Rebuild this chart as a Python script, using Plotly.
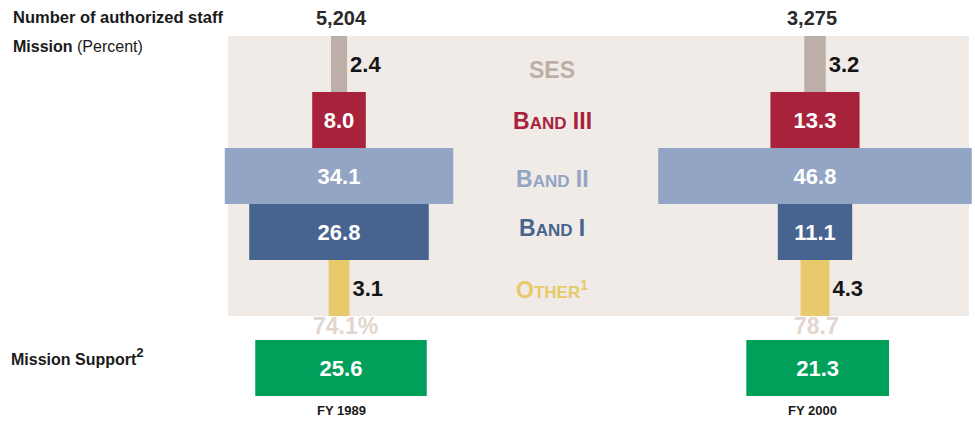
import plotly.graph_objects as go

# ---- data ----
categories = ["SES", "Band III", "Band II", "Band I", "Other"]
fy1989 = [2.4, 8.0, 34.1, 26.8, 3.1]
fy2000 = [3.2, 13.3, 46.8, 11.1, 4.3]
years = ["FY 1989", "FY 2000"]
staff = ["5,204", "3,275"]
mission_total = ["74.1%", "78.7"]
support = [25.6, 21.3]

# ---- styles ----
colors = ["#bcafa7", "#a8223b", "#93a5c4", "#46648f", "#e8c96c"]
green = "#00a05a"
panel = "#f0ebe7"
FONT = "Liberation Sans, Arial, sans-serif"

W, H = 975, 422
K = 6.7                       # px per percent unit
LEFT_PX, RIGHT_PX = 339, 815  # column centers (px)
centers = [0.0, (RIGHT_PX - LEFT_PX) / K]
ROW_PX, ROW0_PX = 56, 64
SUPPORT_ROW = (368 - ROW0_PX) / ROW_PX

fig = go.Figure()

rows = list(range(len(categories)))
for j, vals in enumerate([fy1989, fy2000]):
    c = centers[j]
    fig.add_trace(go.Bar(
        orientation="h",
        y=rows,
        x=vals,
        base=[c - v / 2 for v in vals],
        width=1.0,
        marker=dict(color=colors, line=dict(width=0)),
        text=[f"<b>{v:.1f}</b>" for v in vals],
        textposition=["outside" if v < 5 else "inside" for v in vals],
        insidetextanchor="middle",
        insidetextfont=dict(color="white", size=22, family=FONT),
        outsidetextfont=dict(color="#141414", size=22, family=FONT),
        constraintext="none",
        cliponaxis=False,
        hoverinfo="skip",
        showlegend=False,
    ))

fig.add_trace(go.Bar(
    orientation="h",
    y=[SUPPORT_ROW, SUPPORT_ROW],
    x=support,
    base=[centers[j] + (0.3 if j == 0 else 0.4) - v / 2 for j, v in enumerate(support)],
    width=1.0,
    marker=dict(color=green, line=dict(width=0)),
    text=[f"<b>{v:.1f}</b>" for v in support],
    textposition="inside",
    insidetextanchor="middle",
    insidetextfont=dict(color="white", size=22, family=FONT),
    constraintext="none",
    hoverinfo="skip",
    showlegend=False,
))

# panel background
fig.add_shape(type="rect", xref="paper", yref="y", layer="below",
              x0=228 / W, x1=969 / W, y0=-0.5, y1=4.5,
              fillcolor=panel, line=dict(width=0))

ann = []
# category labels (small caps)
sc = lambda first, rest, extra="": f"<b>{first}<span style='font-size:17px'>{rest}</span>{extra}</b>"
cat_labels = [
    "<b>SES</b>",
    sc("B", "AND", " III"),
    sc("B", "AND", " II"),
    sc("B", "AND", " I"),
    sc("O", "THER", "<span style='font-size:20px'><sup>1</sup></span>"),
]
cat_dy = [0.1, 0.02, 0.05, -0.07, 0.03]
for i, lab in enumerate(cat_labels):
    ann.append(dict(xref="paper", yref="y", x=552 / W, y=i + cat_dy[i], text=lab,
                    showarrow=False, xanchor="center", yanchor="middle",
                    font=dict(size=23, color=colors[i], family=FONT)))

for j in range(2):
    ann.append(dict(xref="x", yref="y", x=centers[j] + (0.3 if j == 0 else -0.4),
                    y=(18 - ROW0_PX) / ROW_PX, text=f"<b>{staff[j]}</b>", showarrow=False,
                    font=dict(size=20, color="#2a2a2a", family=FONT)))
    ann.append(dict(xref="x", yref="y", x=centers[j] + (0.9 if j == 0 else 0.2),
                    y=(326 - ROW0_PX) / ROW_PX,
                    text=f"<b>{mission_total[j]}</b>", showarrow=False,
                    font=dict(size=23, color="#e2d6ce", family=FONT)))
    ann.append(dict(xref="x", yref="y", x=centers[j] + (0.3 if j == 0 else -0.4),
                    y=(410 - ROW0_PX) / ROW_PX, text=f"<b>{years[j]}</b>", showarrow=False,
                    font=dict(size=13, color="#1a1a1a", family=FONT)))

ann.append(dict(xref="paper", yref="paper", x=11 / W, y=1 - 17 / H, xanchor="left",
                yanchor="middle", text="<b>Number of authorized staff</b>", showarrow=False,
                font=dict(size=16.5, color="#1a1a1a", family=FONT)))
ann.append(dict(xref="paper", yref="paper", x=11 / W, y=1 - 47 / H, xanchor="left",
                yanchor="middle", text="<b>Mission</b> (Percent)", showarrow=False,
                font=dict(size=16, color="#1a1a1a", family=FONT)))
ann.append(dict(xref="paper", yref="paper", x=9 / W, y=1 - 356 / H, xanchor="left",
                yanchor="middle",
                text="<b>Mission Support<span style='font-size:19px'><sup>2</sup></span></b>",
                showarrow=False, font=dict(size=16, color="#1a1a1a", family=FONT)))

fig.update_layout(
    width=W, height=H,
    margin=dict(l=0, r=0, t=0, b=0),
    paper_bgcolor="white", plot_bgcolor="white",
    barmode="overlay",
    annotations=ann,
    xaxis=dict(range=[-LEFT_PX / K, (W - LEFT_PX) / K], visible=False, fixedrange=True),
    yaxis=dict(range=[(H - ROW0_PX) / ROW_PX, -ROW0_PX / ROW_PX], visible=False, fixedrange=True),
    font=dict(family=FONT),
)

fig.write_html("out.html", config={"displayModeBar": False},
               post_script="document.body.style.margin='0';")
